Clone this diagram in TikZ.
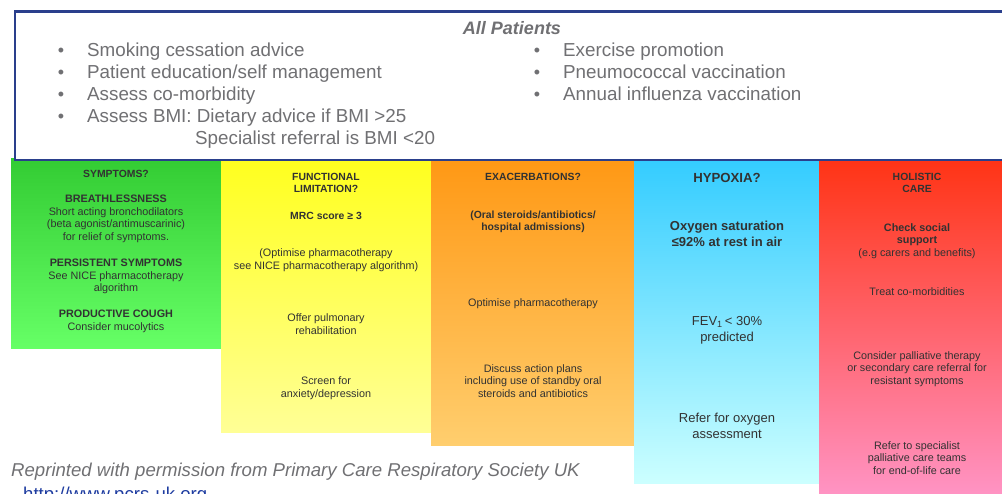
\documentclass[tikz,border=0pt]{standalone}
\usepackage{fontspec}
\setmainfont{Liberation Sans}
\definecolor{boxblue}{RGB}{42,63,140}
\definecolor{topgray}{RGB}{112,112,115}
\definecolor{colgray}{RGB}{50,50,50}
\definecolor{linkblue}{RGB}{30,60,160}
\definecolor{greentop}{RGB}{51,204,51}
\definecolor{greenbot}{RGB}{102,255,102}
\definecolor{yellowtop}{RGB}{255,255,30}
\definecolor{yellowbot}{RGB}{255,255,150}
\definecolor{orangetop}{RGB}{255,152,20}
\definecolor{orangebot}{RGB}{255,206,110}
\definecolor{bluetop}{RGB}{51,204,255}
\definecolor{bluebot}{RGB}{204,255,255}
\definecolor{redtop}{RGB}{255,51,20}
\definecolor{redbot}{RGB}{255,150,200}
\begin{document}
\begin{tikzpicture}
[
x=1pt, y=-1pt,
colbox/.style={anchor=north west, inner sep=0, outer sep=0, draw=none},
allbox/.style={anchor=north west, inner sep=0, draw=boxblue, line width=2.6pt, fill=white},
toptext/.style={anchor=base west, inner sep=0, text=topgray, font=\fontsize{18.8}{22}\selectfont},
dot/.style={anchor=base, inner sep=0, text=topgray, font=\fontsize{18}{22}\selectfont},
coltext/.style={inner sep=0, align=center, text=colgray, font=\fontsize{10.8}{12.6}\selectfont},
colhead/.style={coltext, font=\fontsize{10.4}{12}\selectfont\bfseries},
hyptext/.style={coltext, font=\fontsize{13}{16}\selectfont}
]
\useasboundingbox (0,0) rectangle (1002,493);
%Columns
\node[colbox, minimum width=210pt, minimum height=190pt, top color=greentop, bottom color=greenbot] (symptoms) at(11,158) {};
\node[colbox, minimum width=210pt, minimum height=274pt, top color=yellowtop, bottom color=yellowbot] (functional) at(221,158) {};
\node[colbox, minimum width=203pt, minimum height=287pt, top color=orangetop, bottom color=orangebot] (exacerb) at(431,158) {};
\node[colbox, minimum width=185pt, minimum height=325pt, top color=bluetop, bottom color=bluebot] (hypoxia) at(634,158) {};
\node[colbox, minimum width=190pt, minimum height=345pt, top color=redtop, bottom color=redbot] (holistic) at(819,158) {};

%All patients box
\node[allbox, minimum width=1010pt, minimum height=148.5pt] (allpatients) at(13.5,10) {};
\node[toptext, anchor=base, font=\fontsize{18}{22}\selectfont\bfseries\itshape] (title) at(512,34) {All Patients};
\node[dot]		(b1) at(61,56) {•};
\node[dot]		(b2) at(61,78) {•};
\node[dot]		(b3) at(61,100) {•};
\node[dot]		(b4) at(61,122) {•};
\node[toptext]	(t1) at(87,56) {Smoking cessation advice};
\node[toptext]	(t2) at(87,78) {Patient education/self management};
\node[toptext]	(t3) at(87,100) {Assess co-morbidity};
\node[toptext]	(t4) at(87,122) {Assess BMI: Dietary advice if BMI >25};
\node[toptext]	(t5) at(195,144) {Specialist referral is BMI <20};
\node[dot]		(b5) at(537,56) {•};
\node[dot]		(b6) at(537,78) {•};
\node[dot]		(b7) at(537,100) {•};
\node[toptext]	(t6) at(563,56) {Exercise promotion};
\node[toptext]	(t7) at(563,78) {Pneumococcal vaccination};
\node[toptext]	(t8) at(563,100) {Annual influenza vaccination};

%Symptoms
\node[colhead]	(s1) at(116,174) {SYMPTOMS?};
\node[coltext]	(s2) at(116,219) {\textbf{BREATHLESSNESS}\\Short acting bronchodilators\\(beta agonist/antimuscarinic)\\for relief of symptoms.};
\node[coltext]	(s3) at(116,276.5) {\textbf{PERSISTENT SYMPTOMS}\\See NICE pharmacotherapy\\algorithm};
\node[coltext]	(s4) at(116,321.5) {\textbf{PRODUCTIVE COUGH}\\Consider mucolytics};

%Functional limitation
\node[colhead]	(f1) at(326,182.5) {FUNCTIONAL\\LIMITATION?};
\node[colhead]	(f2) at(326,216) {MRC score ≥ 3};
\node[coltext]	(f3) at(326,260) {(Optimise pharmacotherapy\\see NICE pharmacotherapy algorithm)};
\node[coltext]	(f4) at(326,324) {Offer pulmonary\\rehabilitation};
\node[coltext]	(f5) at(326,388) {Screen for\\anxiety/depression};

%Exacerbations
\node[colhead]	(e1) at(533,177) {EXACERBATIONS?};
\node[colhead]	(e2) at(533,222) {(Oral steroids/antibiotics/\\hospital admissions)};
\node[coltext]	(e3) at(533,304) {Optimise pharmacotherapy};
\node[coltext]	(e4) at(533,381) {Discuss action plans\\including use of standby oral\\steroids and antibiotics};

%Hypoxia
\node[hyptext, font=\fontsize{13.2}{16}\selectfont\bfseries]	(h1) at(727,178) {HYPOXIA?};
\node[hyptext, font=\fontsize{13}{16}\selectfont\bfseries]	(h2) at(727,234) {Oxygen saturation\\≤92\% at rest in air};
\node[hyptext]	(h3) at(727,330) {FEV\textsubscript{1}\,< 30\%\\predicted};
\node[hyptext]	(h4) at(727,425.5) {Refer for oxygen\\assessment};

%Holistic care
\node[colhead]	(c1) at(917,183) {HOLISTIC\\CARE};
\node[coltext]	(c2) at(917,241) {\textbf{Check social}\\\textbf{support}\\(e.g carers and benefits)};
\node[coltext]	(c3) at(917,292) {Treat co-morbidities};
\node[coltext]	(c4) at(917,369) {Consider palliative therapy\\or secondary care referral for\\resistant symptoms};
\node[coltext]	(c5) at(917,458) {Refer to specialist\\palliative care teams\\for end-of-life care};

%Footer
\node[toptext, font=\fontsize{18.6}{20}\selectfont\itshape] (credit) at(11,476) {Reprinted with permission from Primary Care Respiratory Society UK};
\node[toptext, text=linkblue, font=\fontsize{18.6}{20}\selectfont] (link) at(23,500) {http://www.pcrs-uk.org};
\end{tikzpicture}
\end{document}
